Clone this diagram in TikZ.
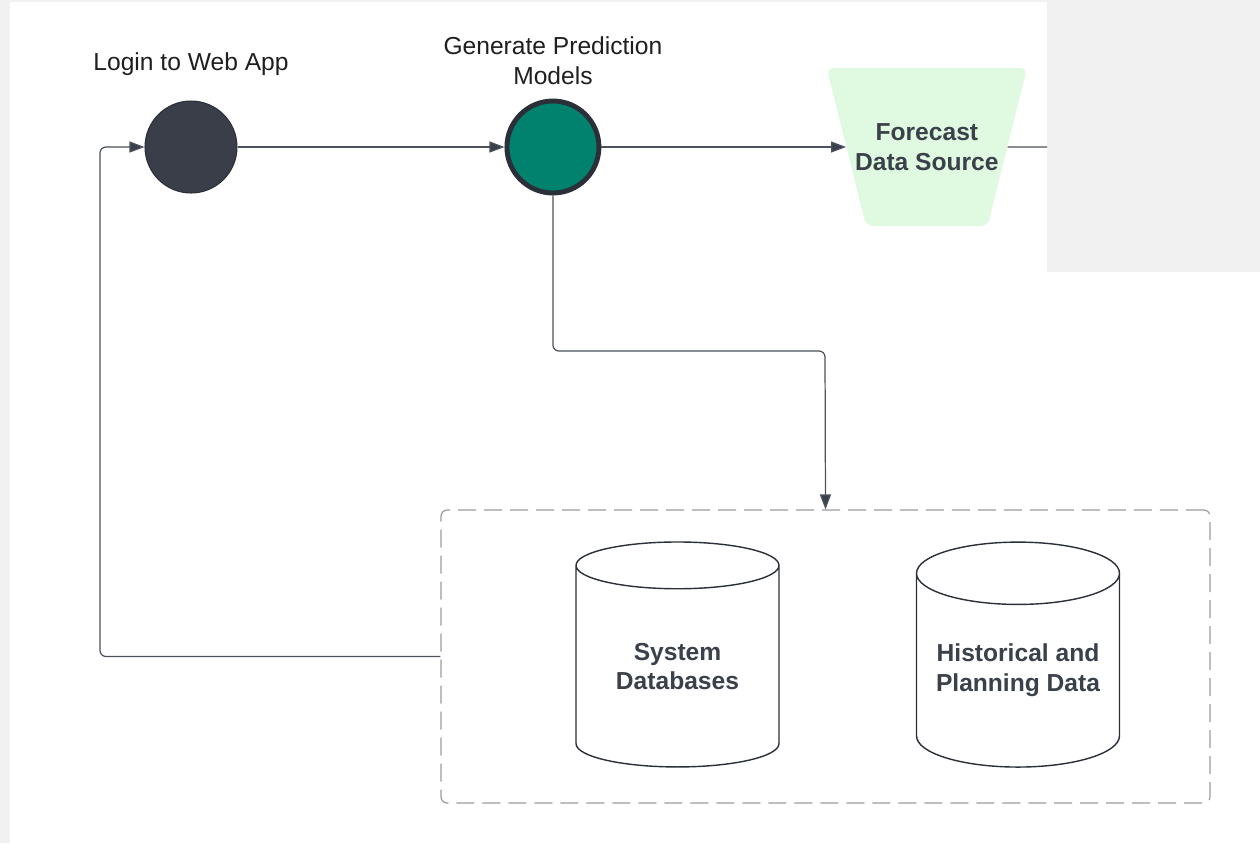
\documentclass[tikz,border=0pt]{standalone}
\usepackage{fontspec}
\setmainfont{Liberation Sans}
\usetikzlibrary{shapes.geometric,positioning,arrows.meta}
\definecolor{bggray}{HTML}{F1F1F1}
\definecolor{slate}{HTML}{393E48}
\definecolor{teal}{HTML}{00826F}
\definecolor{rim}{HTML}{2B3038}
\definecolor{wire}{HTML}{4C525C}
\definecolor{ink}{HTML}{3A414B}
\definecolor{mint}{HTML}{E0F9E1}
\definecolor{dashgray}{HTML}{9C9C9C}
\tikzset{
  state/.style={circle, minimum size=1.84cm, inner sep=0pt},
  caption/.style={font=\fontsize{14}{17}\selectfont, text=black!88, align=center},
  boldtext/.style={font=\fontsize{14}{17}\selectfont\bfseries, text=ink, align=center},
  source/.style={trapezium, shape border rotate=180,
    trapezium left angle=76, trapezium right angle=76,
    inner xsep=-0.22cm, inner ysep=1.11cm,
    fill=mint, rounded corners=0.14cm},
  store/.style={cylinder, shape border rotate=90, draw=rim, line width=0.8pt,
    minimum width=4.06cm, minimum height=4.5cm, aspect=0.38, inner sep=0pt},
  pool/.style={draw=dashgray, line width=0.7pt, dash pattern=on 0.36cm off 0.16cm,
    rounded corners=0.12cm, minimum width=15.38cm, minimum height=5.86cm},
  flow/.style={draw=wire, line width=0.7pt, rounded corners=0.12cm},
  flowarrow/.style={-{Triangle[length=0.3cm,width=0.22cm,fill=ink]}}
}
\begin{document}
\begin{tikzpicture}[x=0.02cm, y=-0.02cm, node distance=1cm, on grid]
  \useasboundingbox (0,0) rectangle (1260,843);
  % background
  \fill[bggray] (0,0) rectangle (1260,843);
  \fill[white] (10,2) -- (1047,2) -- (1047,272) -- (1260,272) -- (1260,843) -- (10,843) -- cycle;

  \node[state, fill=slate, draw=rim, line width=0.6pt] (login) at (191,147) {};
  \node[state, fill=teal, draw=rim, line width=2.8pt, right=7.24cm of login] (gen) {};
  \node[source, boldtext, right=7.48cm of gen] (fds) {Forecast\\Data Source};
  \node[caption, above=1.66cm of login] (login_label) {Login to Web App};
  \node[caption, above=1.72cm of gen] (gen_label) {Generate Prediction\\Models};

  \node[pool] (box) at (825.5,656.5) {};
  \node[store, boldtext] (sysdb) at (677.5,666.5) {System\\Databases};
  \node[store, boldtext] (histdb) at (1018,670.5) {Historical and\\Planning Data};

  \coordinate (cut) at (1047,147);
  \coordinate (bend) at (825,351);
  \coordinate (back) at (100,656.5);

  \draw[flow, flowarrow] (login) -- (gen);
  \draw[flow, flowarrow] (gen) -- (fds);
  \draw[flow] (fds) -- (cut);
  \draw[flow, flowarrow] (gen.south) |- (bend) -- (box.north);
  \draw[flow, flowarrow] (box.west) -- (back) |- (login.west);
\end{tikzpicture}
\end{document}
